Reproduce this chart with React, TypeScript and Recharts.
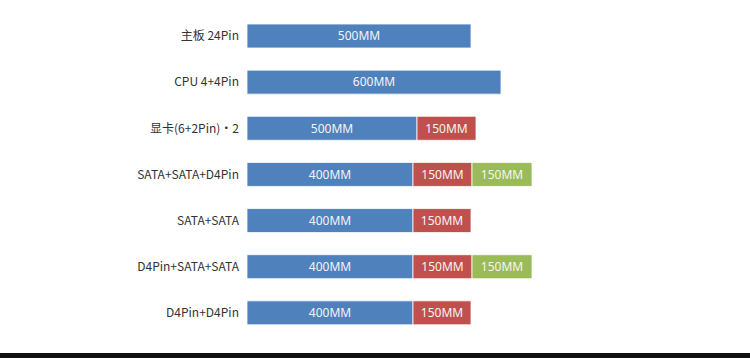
import { BarChart, Bar, XAxis, YAxis, LabelList } from "recharts";

const categories = [
  "主板 24Pin",
  "CPU 4+4Pin",
  "显卡(6+2Pin)•2",
  "SATA+SATA+D4Pin",
  "SATA+SATA",
  "D4Pin+SATA+SATA",
  "D4Pin+D4Pin",
];

// cable lengths printed on the segments
const firstMM = [500, 600, 500, 400, 400, 400, 400];
const secondMM = [null, null, 150, 150, 150, 150, 150];
const thirdMM = [null, null, null, 150, null, 150, null];

// drawn segment lengths as they appear in the picture (not to scale with the mm labels)
const firstDrawn = [224, 254, 170, 166, 166, 166, 166];
const secondDrawn = [null, null, 59, 59, 58, 59, 58];
const thirdDrawn = [null, null, null, 60, null, 60, null];

const data = categories.map((name, i) => ({
  name,
  a: firstDrawn[i],
  b: secondDrawn[i],
  c: thirdDrawn[i],
  aLabel: firstMM[i] != null ? `${firstMM[i]}MM` : "",
  bLabel: secondMM[i] != null ? `${secondMM[i]}MM` : "",
  cLabel: thirdMM[i] != null ? `${thirdMM[i]}MM` : "",
}));

const labelStyle = {
  fill: "#f4f4f4",
  fontSize: 12,
  fontFamily: "'Noto Sans', sans-serif",
};

export default function App() {
  return (
    <div
      style={{
        position: "fixed",
        left: 0,
        top: 0,
        width: 750,
        height: 358,
        background: "#fff",
      }}
    >
      <BarChart
        width={750}
        height={353}
        data={data}
        layout="vertical"
        margin={{ top: 13, right: 0, left: 0, bottom: 17 }}
        barSize={24}
      >
        <XAxis type="number" hide domain={[0, 503]} />
        <YAxis
          type="category"
          dataKey="name"
          width={247}
          axisLine={false}
          tickLine={false}
          tick={{
            fill: "#333",
            fontSize: 12,
            fontFamily: "'Noto Sans CJK SC', 'Noto Sans', sans-serif",
          }}
        />
        <Bar dataKey="a" stackId="s" fill="#4F81BD" stroke="#fff" strokeWidth={0.8} isAnimationActive={false}>
          <LabelList dataKey="aLabel" position="center" style={labelStyle} />
        </Bar>
        <Bar dataKey="b" stackId="s" fill="#C0504D" stroke="#fff" strokeWidth={0.8} isAnimationActive={false}>
          <LabelList dataKey="bLabel" position="center" style={labelStyle} />
        </Bar>
        <Bar dataKey="c" stackId="s" fill="#9BBB59" stroke="#fff" strokeWidth={0.8} isAnimationActive={false}>
          <LabelList dataKey="cLabel" position="center" style={labelStyle} />
        </Bar>
      </BarChart>
      <div
        style={{
          position: "absolute",
          left: 0,
          top: 353,
          width: 750,
          height: 5,
          background: "#111",
        }}
      />
    </div>
  );
}
